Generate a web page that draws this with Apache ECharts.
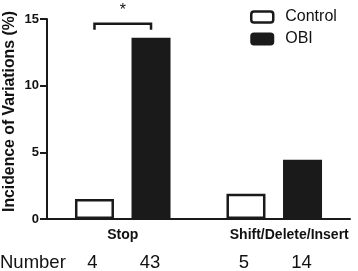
<!DOCTYPE html>
<html><head><meta charset="utf-8">
<script src="https://cdn.jsdelivr.net/npm/echarts@6/dist/echarts.min.js"></script>
<style>html,body{margin:0;padding:0;background:#fff}#c{width:358px;height:271px}</style>
</head><body><div id="c"></div>
<script>
var categories = ['Stop', 'Shift/Delete/Insert'];
var seriesNames = ['Control', 'OBI'];
var controlValues = [1.5, 1.9];
var obiValues = [13.6, 4.45];
var countLabel = 'Number';
var controlCounts = ['4', '5'];
var obiCounts = ['43', '14'];
var yTicks = [0, 5, 10, 15];
var yTitle = 'Incidence of Variations (%)';
var bracketLevel = 14.65;
var bracketLeg = 14.2;
var sigMark = '*';

var FONT = 'Liberation Sans, Arial, sans-serif';
var INK = '#1a1a1a';
var BAR_W = 39, BAR_GAP = 0.45;

var chart = echarts.init(document.getElementById('c'), null, {renderer: 'canvas'});
chart.setOption({
  animation: false,
  grid: {left: 47, right: 8, top: 19, bottom: 52, containLabel: false, outerBoundsMode: 'none'},
  legend: {
    orient: 'vertical', left: 250, top: 9, padding: 0, itemWidth: 22, itemHeight: 11, itemGap: 6,
    textStyle: {fontFamily: FONT, fontSize: 16, color: '#111', padding: [0, 0, 0, 7]},
    data: [
      {name: 'Control', itemStyle: {color: '#fff', borderColor: INK, borderWidth: 2.5}},
      {name: 'OBI', itemStyle: {color: INK, borderColor: INK, borderWidth: 2}}
    ]
  },
  xAxis: {
    type: 'category', data: [
      {value: categories[0]},
      {value: categories[1], textStyle: {padding: [0, 0, 0, 30]}}
    ],
    axisLine: {lineStyle: {color: INK, width: 2}},
    axisTick: {alignWithLabel: true, length: 5, lineStyle: {color: INK, width: 2}},
    axisLabel: {fontFamily: FONT, fontWeight: 'bold', fontSize: 14, color: '#111', margin: 9, interval: 0}
  },
  yAxis: {
    type: 'value', min: yTicks[0], max: yTicks[yTicks.length - 1], interval: 5,
    axisLine: {show: true, lineStyle: {color: INK, width: 2}},
    axisTick: {show: true, length: 7, lineStyle: {color: INK, width: 2}},
    axisLabel: {fontFamily: FONT, fontWeight: 'bold', fontSize: 13, color: '#111', margin: 8},
    splitLine: {show: false}
  },
  series: [
    {name: seriesNames[0], type: 'bar', data: controlValues, barWidth: BAR_W, barGap: (BAR_GAP * 100) + '%',
     itemStyle: {color: '#fff', borderColor: INK, borderWidth: 2.5}},
    {name: seriesNames[1], type: 'bar', data: obiValues, barWidth: BAR_W,
     itemStyle: {color: INK, borderColor: INK, borderWidth: 2}}
  ]
});

function barX(catIdx, seriesIdx) {
  var c = chart.convertToPixel({xAxisIndex: 0}, categories[catIdx]);
  var off = (BAR_W + BAR_W * BAR_GAP) / 2;
  return c + (seriesIdx === 0 ? -off : off);
}
function yPx(v) { return chart.convertToPixel({yAxisIndex: 0}, v); }

var g = [];
g.push({type: 'text', x: 10, y: 111.5, rotation: Math.PI / 2,
  style: {text: yTitle, fontFamily: FONT, fontWeight: 'bold', fontSize: 15.8, fill: '#111', align: 'center', verticalAlign: 'middle'}});
var x1 = barX(0, 0), x2 = barX(0, 1);
var yb = yPx(bracketLevel), yl = yPx(bracketLeg);
g.push({type: 'polyline', shape: {points: [[x1, yl], [x1, yb], [x2, yb], [x2, yl]]},
  style: {stroke: INK, lineWidth: 2.5, fill: null}});
g.push({type: 'text', x: (x1 + x2) / 2, y: yb - 5,
  style: {text: sigMark, fontFamily: FONT, fontSize: 16, fill: '#111', align: 'center', verticalAlign: 'bottom'}});
var numY = 263;
var NUM_FS = 18.5;
g.push({type: 'text', x: 0, y: numY, style: {text: countLabel, fontFamily: FONT, fontSize: NUM_FS, fill: '#111', align: 'left', verticalAlign: 'middle'}});
for (var i = 0; i < categories.length; i++) {
  g.push({type: 'text', x: barX(i, 0) - 2, y: numY, style: {text: controlCounts[i], fontFamily: FONT, fontSize: NUM_FS, fill: '#111', align: 'center', verticalAlign: 'middle'}});
  g.push({type: 'text', x: barX(i, 1) - 1, y: numY, style: {text: obiCounts[i], fontFamily: FONT, fontSize: NUM_FS, fill: '#111', align: 'center', verticalAlign: 'middle'}});
}
chart.setOption({graphic: g});
</script></body></html>
